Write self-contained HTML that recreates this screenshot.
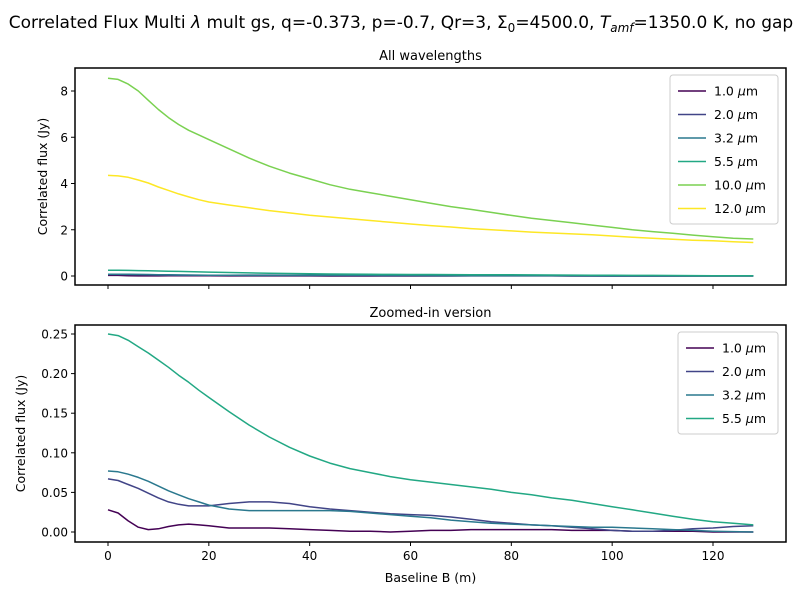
<!DOCTYPE html>
<html><head><meta charset="utf-8"><style>
body{margin:0;background:#fff;}
svg{font-family:"DejaVu Sans","Liberation Sans",sans-serif;}
</style></head><body>
<svg id="chart" width="800" height="600" viewBox="0 0 800 600">
<text x="401" y="28" text-anchor="middle" font-size="17">Correlated Flux Multi <tspan font-style="italic">λ</tspan> mult gs, q=-0.373, p=-0.7, Qr=3, Σ<tspan font-size="12" dy="4">0</tspan><tspan dy="-4">=4500.0, </tspan><tspan font-style="italic">T</tspan><tspan font-size="12" font-style="italic" dy="4">amf</tspan><tspan dy="-4">=1350.0 K, no gap</tspan></text>
</svg>
<script>
const baselines=[0,2,4,6,8,10,12,14,16,18,20,24,28,32,36,40,44,48,52,56,60,64,68,72,76,80,84,88,92,96,100,104,108,112,116,120,124,128];
const labels=["1.0 μm","2.0 μm","3.2 μm","5.5 μm","10.0 μm","12.0 μm"];
const colors=["#440154","#414487","#2a788e","#22a884","#7ad151","#fde725"];
const flux10=[0.028,0.024,0.014,0.006,0.003,0.004,0.007,0.009,0.010,0.009,0.008,0.005,0.005,0.005,0.004,0.003,0.002,0.001,0.001,0.0,0.001,0.002,0.002,0.003,0.003,0.003,0.003,0.003,0.002,0.002,0.002,0.001,0.001,0.001,0.001,0.0,0.0,0.0];
const flux20=[0.067,0.065,0.060,0.055,0.049,0.043,0.038,0.035,0.033,0.033,0.033,0.036,0.038,0.038,0.036,0.032,0.029,0.027,0.025,0.023,0.022,0.021,0.019,0.016,0.013,0.011,0.009,0.008,0.006,0.004,0.002,0.001,0.001,0.002,0.004,0.005,0.007,0.008];
const flux32=[0.077,0.076,0.073,0.069,0.064,0.058,0.052,0.047,0.042,0.038,0.034,0.029,0.027,0.027,0.027,0.027,0.027,0.026,0.024,0.022,0.020,0.018,0.015,0.013,0.011,0.010,0.009,0.008,0.007,0.006,0.006,0.005,0.004,0.003,0.002,0.001,0.0005,0.0];
const flux55=[0.25,0.248,0.242,0.234,0.226,0.217,0.208,0.198,0.189,0.179,0.170,0.152,0.135,0.120,0.107,0.096,0.087,0.080,0.075,0.070,0.066,0.063,0.060,0.057,0.054,0.050,0.047,0.043,0.040,0.036,0.032,0.028,0.024,0.020,0.016,0.013,0.011,0.009];
const flux100=[8.55,8.5,8.3,8.0,7.6,7.2,6.85,6.55,6.3,6.1,5.9,5.5,5.1,4.75,4.45,4.2,3.95,3.75,3.6,3.45,3.3,3.15,3.0,2.88,2.75,2.62,2.5,2.4,2.3,2.2,2.1,2.0,1.92,1.85,1.77,1.7,1.63,1.6];
const flux120=[4.35,4.33,4.27,4.15,4.02,3.85,3.7,3.55,3.42,3.3,3.2,3.07,2.95,2.83,2.73,2.63,2.55,2.48,2.4,2.32,2.25,2.18,2.12,2.05,2.0,1.95,1.9,1.86,1.82,1.78,1.73,1.68,1.63,1.59,1.55,1.52,1.48,1.45];
const xTicks=[0,20,40,60,80,100,120];
const topYTicks=[0,2,4,6,8];
const botYTicks=[0,0.05,0.10,0.15,0.20,0.25];
const botYLabels=["0.00","0.05","0.10","0.15","0.20","0.25"];

const NS="http://www.w3.org/2000/svg";
const svg=document.getElementById('chart');
function mk(tag,attrs,parent){const e=document.createElementNS(NS,tag);for(const k in attrs)e.setAttribute(k,attrs[k]);(parent||svg).appendChild(e);return e;}
const X0=75,X1=786;
function xs(v){return 108+(v-0)*(713-108)/120;}
function panel(top,bottom,ymin,ymax,yAt0,yAtMax,vmax,series,yTicks,yLabs,title,name,showX,legend){
  const g=mk('g',{});
  
  
  const ys=v=>yAt0+(v/vmax)*(yAtMax-yAt0);
  const t=mk('text',{x:(X0+X1)/2,y:top-8,'text-anchor':'middle','font-size':'13'},g);t.textContent=title;
  
  
  series.forEach((s,i)=>{
    const d=baselines.map((b,j)=>(j?'L':'M')+xs(b).toFixed(1)+','+ys(s[j]).toFixed(1)).join(' ');
    const p=mk('path',{d:d,fill:'none',stroke:colors[i],'stroke-width':1.5,'stroke-linejoin':'round'},g);
    
    
  });
  const fr=mk('rect',{x:X0,y:top,width:X1-X0,height:bottom-top,fill:'none',stroke:'#000','stroke-width':1.5},g);
  
  
  xTicks.forEach(v=>{
    mk('line',{x1:xs(v),x2:xs(v),y1:bottom,y2:bottom+4,stroke:'#000'},g);
    if(showX){const tt=mk('text',{x:xs(v),y:bottom+18,'text-anchor':'middle','font-size':'12'},g);tt.textContent=v;
      
      }
  });
  yTicks.forEach((v,i)=>{
    const y=ys(v);
    mk('line',{x1:X0-4,x2:X0,y1:y,y2:y,stroke:'#000'},g);
    const tt=mk('text',{x:X0-7,y:y+4.5,'text-anchor':'end','font-size':'12'},g);tt.textContent=yLabs[i];
    
    
  });
  const yl=mk('text',{x:0,y:0,'text-anchor':'middle','font-size':'12.5',transform:`translate(${legend.ylx},${(top+bottom)/2}) rotate(-90)`},g);
  yl.textContent='Correlated flux (Jy)';
  
  
  const lg=mk('g',{},g);
  
  
  mk('rect',{x:legend.x,y:legend.y,width:legend.w,height:series.length*23.5+8,rx:3,fill:'#fff',stroke:'#ccc'},lg);
  series.forEach((s,i)=>{
    const y=legend.y+16+i*23.5;
    mk('line',{x1:legend.x+8,x2:legend.x+36,y1:y,y2:y,stroke:colors[i],'stroke-width':1.5},lg);
    const tt=mk('text',{x:legend.x+44,y:y+4.5,'font-size':'12.5'},lg);
    tt.innerHTML=labels[i].replace(' μm',' <tspan font-style="italic">μ</tspan>m');
    
    
  });
}
panel(68,285,0,0,276,91,8,[flux10,flux20,flux32,flux55,flux100,flux120],topYTicks,topYTicks.map(String),'All wavelengths','top-panel',false,{x:670,y:75,w:108,ylx:47});
panel(325,542,0,0,532,334,0.25,[flux10,flux20,flux32,flux55],botYTicks,botYLabels,'Zoomed-in version','bottom-panel',true,{x:678,y:332,w:100,ylx:25});
const xl=mk('text',{x:(X0+X1)/2,y:582,'text-anchor':'middle','font-size':'12.5'});
xl.textContent='Baseline B (m)';


</script>
</body></html>
